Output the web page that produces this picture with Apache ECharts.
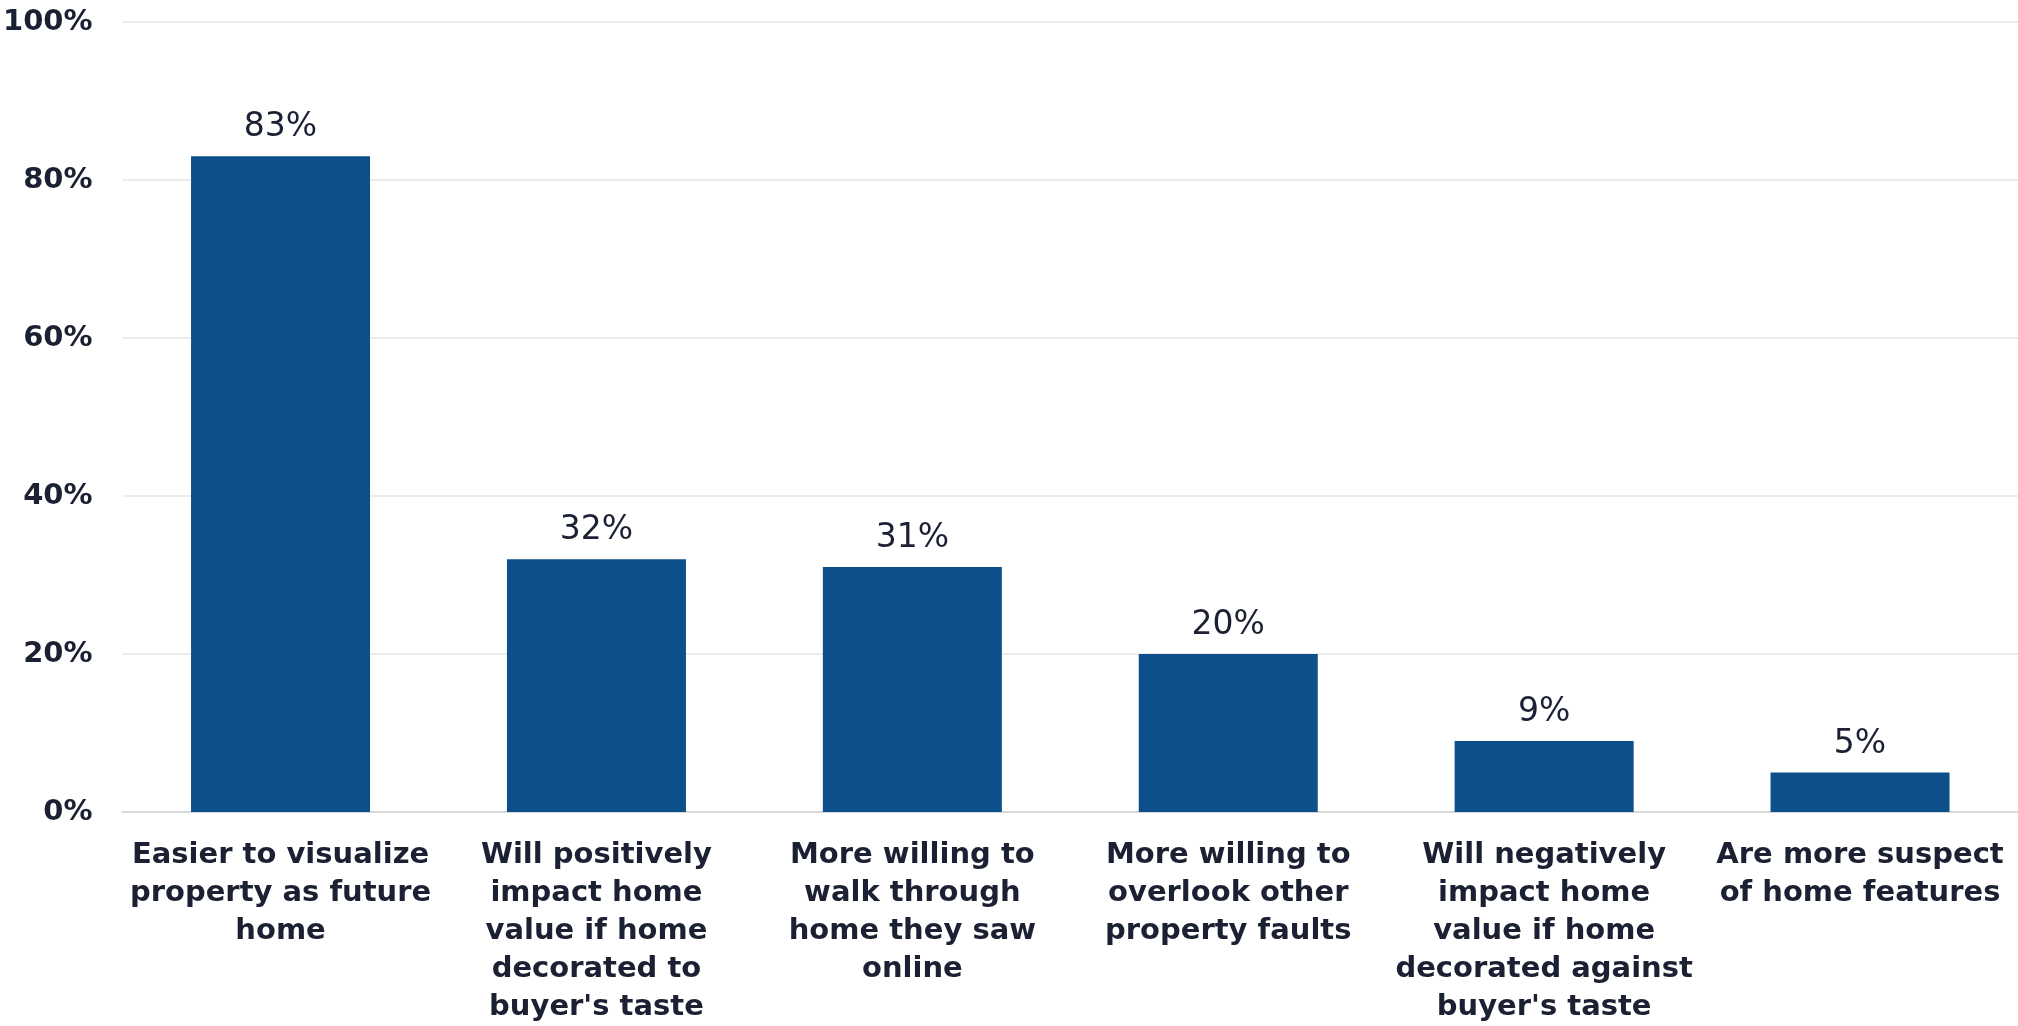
<!DOCTYPE html>
<html>
<head>
<meta charset="utf-8">
<script src="https://cdn.jsdelivr.net/npm/echarts@6/dist/echarts.min.js"></script>
<style>
  html, body { margin: 0; padding: 0; background: #ffffff; }
  #chart { width: 2018px; height: 1026px; }
</style>
</head>
<body>
<div id="chart"></div>
<script>
// Survey answers (multi-line category labels) and their shares in percent
const categories = [
  'Easier to visualize\nproperty as future\nhome',
  'Will positively\nimpact home\nvalue if home\ndecorated to\nbuyer\'s taste',
  'More willing to\nwalk through\nhome they saw\nonline',
  'More willing to\noverlook other\nproperty faults',
  'Will negatively\nimpact home\nvalue if home\ndecorated against\nbuyer\'s taste',
  'Are more suspect\nof home features'
];
const shares = [83, 32, 31, 20, 9, 5];
const yTicks = { min: 0, max: 100, interval: 20 };

const textColor = '#1c2033';
const fontFamily = '"DejaVu Sans", "Open Sans", sans-serif';

const chart = echarts.init(document.getElementById('chart'));
chart.setOption({
  animation: false,
  backgroundColor: '#ffffff',
  grid: { left: 121, right: -3, top: 22, bottom: 214, containLabel: false },
  xAxis: {
    type: 'category',
    data: categories,
    axisLine: { show: true, lineStyle: { color: '#d9d9d9', width: 2 } },
    axisTick: { show: false },
    axisLabel: {
      interval: 0,
      margin: 24,
      color: textColor,
      fontFamily: fontFamily,
      fontWeight: 700,
      fontSize: 29,
      lineHeight: 38,
      align: 'center'
    }
  },
  yAxis: {
    type: 'value',
    min: yTicks.min,
    max: yTicks.max,
    interval: yTicks.interval,
    axisLine: { show: false },
    axisTick: { show: false },
    splitLine: { show: true, lineStyle: { color: '#ececec', width: 2 } },
    axisLabel: {
      formatter: '{value}%',
      margin: 30,
      color: textColor,
      fontFamily: fontFamily,
      fontWeight: 700,
      fontSize: 29
    }
  },
  series: [{
    type: 'bar',
    data: shares,
    barWidth: 179,
    itemStyle: { color: '#0c4f8a' },
    label: {
      show: true,
      position: 'top',
      distance: 12,
      formatter: '{c}%',
      color: textColor,
      fontFamily: fontFamily,
      fontWeight: 400,
      fontSize: 33
    }
  }]
});
</script>
</body>
</html>
